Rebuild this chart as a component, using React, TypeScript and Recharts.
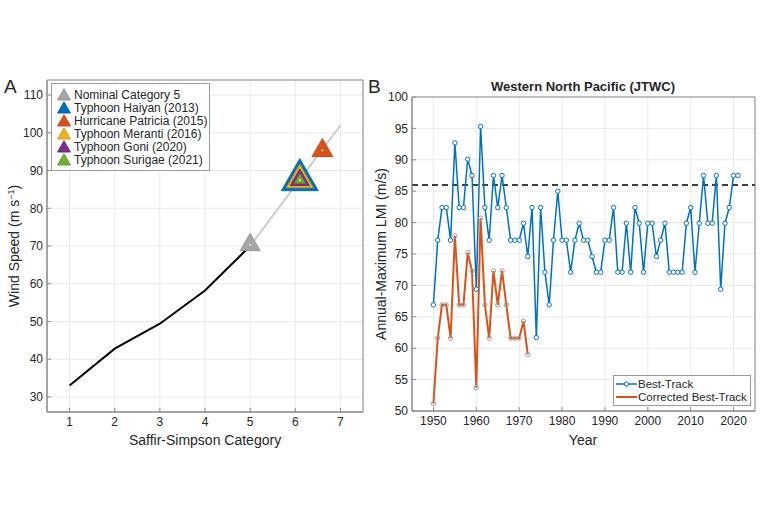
import React from "react";
import {
  ComposedChart,
  Line,
  Scatter,
  XAxis,
  YAxis,
  CartesianGrid,
  ReferenceLine,
  ReferenceArea,
  Legend,
} from "recharts";

// Panel A: Saffir-Simpson thresholds
const categories = [1, 2, 3, 4, 5];
const categoryWind = [33, 42.8, 49.4, 58.2, 70];
const extCategories = [5, 6, 7];
const extWind = [70, 86, 102];

const storms = [
  "Nominal Category 5",
  "Typhoon Haiyan (2013)",
  "Hurricane Patricia (2015)",
  "Typhoon Meranti (2016)",
  "Typhoon Goni (2020)",
  "Typhoon Surigae (2021)",
];
const stormCategory = [5, 6.1, 6.6, 6.1, 6.1, 6.1];
const stormWind = [70.3, 87.5, 95.3, 87.5, 87.5, 87.5];

const catTicks = [1, 2, 3, 4, 5, 6, 7];
const windTicks = [30, 40, 50, 60, 70, 80, 90, 100, 110];

// Panel B: annual-maximum LMI
const years = [
  1950, 1951, 1952, 1953, 1954, 1955, 1956, 1957, 1958, 1959,
  1960, 1961, 1962, 1963, 1964, 1965, 1966, 1967, 1968, 1969,
  1970, 1971, 1972, 1973, 1974, 1975, 1976, 1977, 1978, 1979,
  1980, 1981, 1982, 1983, 1984, 1985, 1986, 1987, 1988, 1989,
  1990, 1991, 1992, 1993, 1994, 1995, 1996, 1997, 1998, 1999,
  2000, 2001, 2002, 2003, 2004, 2005, 2006, 2007, 2008, 2009,
  2010, 2011, 2012, 2013, 2014, 2015, 2016, 2017, 2018, 2019,
  2020, 2021,
];
const bestTrack = [
  66.9, 77.2, 82.4, 82.4, 77.2, 92.7, 82.4, 82.4, 90.1, 87.5,
  69.4, 95.3, 82.4, 77.2, 87.5, 82.4, 87.5, 82.4, 77.2, 77.2,
  77.2, 79.9, 74.6, 82.4, 61.7, 82.4, 72.1, 66.9, 77.2, 85.0,
  77.2, 77.2, 72.1, 77.2, 79.9, 77.2, 77.2, 74.6, 72.1, 72.1,
  77.2, 77.2, 82.4, 72.1, 72.1, 79.9, 72.1, 82.4, 79.9, 72.1,
  79.9, 79.9, 74.6, 77.2, 79.9, 72.1, 72.1, 72.1, 72.1, 79.9,
  82.4, 72.1, 79.9, 87.5, 79.9, 79.9, 87.5, 69.4, 79.9, 82.4,
  87.5, 87.5,
];
const correctedTrack = [
  51.2, 61.6, 66.9, 66.9, 61.6, 77.9, 66.9, 66.9, 75.2, 72.3,
  53.7, 80.7, 66.9, 61.6, 72.3, 66.9, 72.3, 66.9, 61.6, 61.6,
  61.6, 64.3, 59.0,
];
const cat6Threshold = 86;
const yearTicks = [1950, 1960, 1970, 1980, 1990, 2000, 2010, 2020];
const lmiTicks = [50, 55, 60, 65, 70, 75, 80, 85, 90, 95, 100];

const FONT = "'Liberation Sans', Arial, Helvetica, sans-serif";
const AXIS = "#8a8a8a";
const GRID = "#e9e9e9";
const TEXT = "#262626";
const BLUE = "#0072BD";
const ORANGE = "#D95319";

// marker styles, same order as storms
const stormFill = ["#a6a6a6", BLUE, ORANGE, "#EDB120", "#7E2F8E", "#77AC30"];
const stormEdge = ["#8c8c8c", "#005a96", "#b5441a", "#c99510", "#5e2069", "#5a8a20"];
const stormWidth = [20, 37, 21, 27, 19, 11];
const drawOrder = [0, 2, 1, 3, 4, 5];

function Tri({ cx, cy, w, fill, stroke, dot }: any) {
  const h = w * 0.87;
  const pts = `${cx},${cy - (2 * h) / 3} ${cx - w / 2},${cy + h / 3} ${cx + w / 2},${cy + h / 3}`;
  return (
    <g>
      <polygon points={pts} fill={fill} stroke={stroke} strokeWidth={0.8} />
      {dot && <circle cx={cx} cy={cy} r={1} fill="#e6e6e6" />}
    </g>
  );
}

const tickStyle = { fontSize: 12, fill: TEXT, fontFamily: FONT };

function StormLegend() {
  return (
    <div
      style={{
        display: "inline-block",
        border: "1px solid #9a9a9a",
        background: "#fff",
        padding: "4px 2px 4px 4px",
        fontFamily: FONT,
        fontSize: 12,
        color: TEXT,
      }}
    >
      {storms.map((s, i) => (
        <div key={s} style={{ display: "flex", alignItems: "center", height: 13 }}>
          <svg width={16} height={13} style={{ marginRight: 2, flexShrink: 0 }}>
            <Tri cx={8} cy={8.3} w={13} fill={stormFill[i]} stroke={stormEdge[i]} />
          </svg>
          <span style={{ whiteSpace: "nowrap" }}>{s}</span>
        </div>
      ))}
    </div>
  );
}

function TrackLegend() {
  return (
    <div
      style={{
        display: "inline-block",
        border: "1px solid #9a9a9a",
        background: "#fff",
        padding: "1px 3px 1px 2px",
        fontFamily: FONT,
        fontSize: 11.5,
        color: TEXT,
      }}
    >
      <div style={{ display: "flex", alignItems: "center", height: 13.5 }}>
        <svg width={21} height={10} style={{ marginRight: 1, flexShrink: 0 }}>
          <line x1={0} y1={5} x2={21} y2={5} stroke={BLUE} strokeWidth={1.5} />
          <circle cx={10.5} cy={5} r={2.2} fill="#fff" stroke={BLUE} />
        </svg>
        <span>Best-Track</span>
      </div>
      <div style={{ display: "flex", alignItems: "center", height: 13.5 }}>
        <svg width={21} height={10} style={{ marginRight: 1, flexShrink: 0 }}>
          <line x1={0} y1={5} x2={21} y2={5} stroke={ORANGE} strokeWidth={2} />
        </svg>
        <span style={{ whiteSpace: "nowrap" }}>Corrected Best-Track</span>
      </div>
    </div>
  );
}

export default function App() {
  const baseLine = categories.map((c, i) => ({ x: c, y: categoryWind[i] }));
  const extLine = extCategories.map((c, i) => ({ x: c, y: extWind[i] }));
  const lmiData = years.map((yr, i) => ({
    year: yr,
    best: bestTrack[i],
    corrected: correctedTrack[i],
  }));

  const label: React.CSSProperties = {
    position: "absolute",
    fontFamily: FONT,
    fontSize: 14,
    color: TEXT,
    whiteSpace: "nowrap",
  };

  return (
    <div style={{ position: "absolute", left: 0, top: 0, width: 768, height: 512, background: "#fff" }}>
      {/* Panel A */}
      <div style={{ position: "absolute", left: 0, top: 0 }}>
        <ComposedChart width={380} height={450} margin={{ top: 80, right: 17, bottom: 8, left: 0 }}>
          <CartesianGrid stroke={GRID} />
          <XAxis
            type="number"
            dataKey="x"
            domain={[0.5, 7.5]}
            ticks={catTicks}
            allowDataOverflow
            height={30}
            stroke={AXIS}
            tick={tickStyle}
            tickSize={-4}
            tickMargin={9}
          />
          <YAxis
            type="number"
            domain={[26, 114]}
            ticks={windTicks}
            allowDataOverflow
            width={47}
            stroke={AXIS}
            tick={tickStyle}
            tickSize={-4}
            tickMargin={8}
          />
          <ReferenceArea x1={0.5} x2={7.5} y1={26} y2={114} fill="none" stroke={AXIS} ifOverflow="visible" />
          <Line data={extLine} dataKey="y" stroke="#cccccc" strokeWidth={2} dot={false} isAnimationActive={false} />
          <Line data={baseLine} dataKey="y" stroke="#000" strokeWidth={2} dot={false} isAnimationActive={false} />
          {drawOrder.map((i) => (
            <Scatter
              key={storms[i]}
              name={storms[i]}
              data={[{ x: stormCategory[i], y: stormWind[i] }]}
              dataKey="y"
              isAnimationActive={false}
              shape={(p: any) => (
                <Tri cx={p.cx} cy={p.cy} w={stormWidth[i]} fill={stormFill[i]} stroke={stormEdge[i]} dot />
              )}
            />
          ))}
          <Legend
            layout="vertical"
            align="center"
            verticalAlign="middle"
            content={() => <StormLegend />}
            wrapperStyle={{ position: "absolute", left: 51, top: 83, width: "auto", height: "auto" }}
          />
        </ComposedChart>
      </div>

      {/* Panel B */}
      <div style={{ position: "absolute", left: 370, top: 0 }}>
        <ComposedChart width={398} height={450} data={lmiData} margin={{ top: 97, right: 13, bottom: 9, left: 0 }}>
          <CartesianGrid stroke={GRID} />
          <XAxis
            type="number"
            dataKey="year"
            domain={[1945, 2025]}
            ticks={yearTicks}
            allowDataOverflow
            height={30}
            stroke={AXIS}
            tick={tickStyle}
            tickSize={-4}
            tickMargin={9}
          />
          <YAxis
            type="number"
            domain={[50, 100]}
            ticks={lmiTicks}
            allowDataOverflow
            width={42}
            stroke={AXIS}
            tick={tickStyle}
            tickSize={-4}
            tickMargin={8}
          />
          <ReferenceArea x1={1945} x2={2025} y1={50} y2={100} fill="none" stroke={AXIS} ifOverflow="visible" />
          <ReferenceLine y={cat6Threshold} stroke="#000" strokeWidth={1.5} strokeDasharray="6 4" />
          <Line
            dataKey="best"
            name="Best-Track"
            stroke={BLUE}
            strokeWidth={1.5}
            dot={{ r: 2.2, fill: "#fff", stroke: BLUE, strokeWidth: 1 }}
            activeDot={false}
            isAnimationActive={false}
          />
          <Line
            dataKey="corrected"
            name="Corrected Best-Track"
            stroke={ORANGE}
            strokeWidth={2}
            dot={{ r: 2.2, fill: "none", stroke: "#a0a0a0", strokeWidth: 1 }}
            activeDot={false}
            isAnimationActive={false}
          />
          <Legend
            layout="vertical"
            align="center"
            verticalAlign="middle"
            content={() => <TrackLegend />}
            wrapperStyle={{ position: "absolute", left: 243, top: 375, width: "auto", height: "auto" }}
          />
        </ComposedChart>
      </div>

      {/* panel letters, titles and axis labels */}
      <div style={{ ...label, left: 4, top: 76, fontSize: 19 }}>A</div>
      <div style={{ ...label, left: 368, top: 76, fontSize: 19 }}>B</div>
      <div style={{ ...label, left: 583, top: 79, transform: "translateX(-50%)", fontWeight: 700, fontSize: 13 }}>
        Western North Pacific (JTWC)
      </div>
      <div style={{ ...label, left: 205, top: 432, transform: "translateX(-50%)" }}>Saffir-Simpson Category</div>
      <div style={{ ...label, left: 583, top: 432, transform: "translateX(-50%)" }}>Year</div>
      <div
        style={{
          ...label,
          left: 14,
          top: 246,
          transform: "translate(-50%, -50%) rotate(-90deg)",
        }}
      >
        Wind Speed (m s<sup style={{ fontSize: 9 }}>−1</sup>)
      </div>
      <div
        style={{
          ...label,
          left: 381,
          top: 254,
          transform: "translate(-50%, -50%) rotate(-90deg)",
        }}
      >
        Annual-Maximum LMI (m/s)
      </div>
    </div>
  );
}
